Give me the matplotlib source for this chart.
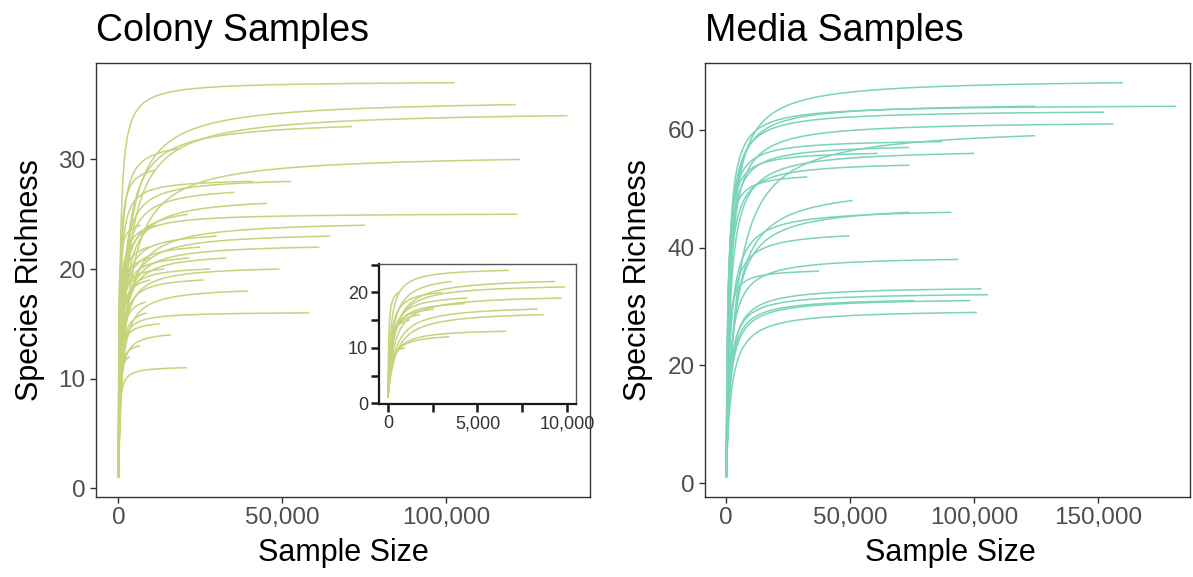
import numpy as np
import matplotlib
matplotlib.use("Agg")
import matplotlib.pyplot as plt

plt.rcParams['font.family'] = ['Liberation Sans', 'DejaVu Sans']

# ---------------- data ----------------
# Colony samples: final sample size, final richness, half-saturation size (shape)
colony_size = [102750, 121350, 137200, 71350, 19100, 11000, 122800, 52750, 41070, 35460,
               45340, 21250, 121900, 75300, 12200, 64640, 30000, 61400, 25000, 21650,
               33000, 49200, 28000, 14000, 26000, 39540, 58340, 12600, 16060, 20940,
               6760, 9350, 3550, 9900, 600, 3050, 9700, 4450, 4300, 8370,
               2570, 8690, 1800, 1200, 6610, 3430, 960]
colony_rich = [37, 35, 34, 33, 31, 29, 30, 28, 28, 27,
               26, 25, 25, 24, 24, 23, 23, 22, 22, 21,
               21, 20, 20, 20, 19, 18, 16, 15, 14, 11,
               24, 22, 22, 21, 20, 20, 19, 19, 18, 17,
               17, 16, 16, 15, 13, 12, 10]
colony_half = [450, 2000, 2200, 1500, 500, 300, 2500, 800, 400, 900,
               1200, 800, 600, 1500, 400, 1200, 700, 1000, 600, 500,
               900, 900, 500, 300, 600, 1000, 400, 300, 500, 300,
               150, 350, 250, 300, 40, 150, 350, 200, 200, 400,
               150, 450, 120, 80, 250, 200, 60]

# Media samples
media_size = [160000, 181500, 124600, 152600, 156250, 124600, 87050, 73800, 100000, 61100,
              73900, 32700, 50950, 90800, 73900, 49750, 93550, 37450, 103000, 105700,
              98400, 75950, 101100]
media_rich = [68, 64, 64, 63, 61, 59, 58, 57, 56, 56,
              54, 52, 48, 46, 46, 42, 38, 36, 33, 32,
              31, 31, 29]
media_half = [1800, 900, 1200, 1000, 1400, 4000, 700, 900, 1500, 600,
              1000, 500, 3000, 1500, 2500, 1200, 1500, 500, 1500, 1300,
              1600, 1400, 2000]

inset_max_size = 10000

colony_color = '#c4d47c'
media_color = '#7ad3bb'
tick_col = '#4d4d4d'
frame_col = '#333333'


def curve(size, rich, half):
    x = np.unique(np.concatenate([np.linspace(1, size, 400), np.geomspace(1, size, 300)]))
    h = (x - 1) / (half + x - 1)
    hm = (size - 1) / (half + size - 1)
    return x, 1 + (rich - 1) * h / hm


W, H = 1193, 577
fig = plt.figure(figsize=(W / 100, H / 100), dpi=100)


def box(l, t, r, b):
    return [l / W, 1 - b / H, (r - l) / W, (b - t) / H]


ax1 = fig.add_axes(box(96, 63, 590, 497))
ax2 = fig.add_axes(box(705, 63, 1190, 497))
axin = fig.add_axes(box(379, 264, 576, 404))

for s, r, k in zip(colony_size, colony_rich, colony_half):
    x, y = curve(s, r, k)
    ax1.plot(x, y, color=colony_color, lw=1.1, solid_capstyle='butt')
    if s <= inset_max_size:
        axin.plot(x, y, color=colony_color, lw=1.1, solid_capstyle='butt')

for s, r, k in zip(media_size, media_rich, media_half):
    x, y = curve(s, r, k)
    ax2.plot(x, y, color=media_color, lw=1.1, solid_capstyle='butt')


def style(ax, xlim, ylim, xt, yt, title, xlab_x, ylab_x):
    ax.set_xlim(*xlim)
    ax.set_ylim(*ylim)
    ax.set_xticks(xt)
    ax.set_xticklabels([f'{v:,}' for v in xt])
    ax.set_yticks(yt)
    ax.set_yticklabels([str(v) for v in yt])
    for sp in ax.spines.values():
        sp.set_color(frame_col)
        sp.set_linewidth(1.0)
    ax.tick_params(axis='both', length=4.5, width=1.0, color=frame_col,
                   labelcolor=tick_col, labelsize=17.5, pad=3)
    ax.set_title(title, loc='left', fontsize=27, pad=16, color='black')
    fig.text(xlab_x / W, 1 - 553 / H, 'Sample Size', ha='center', va='center', fontsize=22)
    fig.text(ylab_x / W, 1 - 280 / H, 'Species Richness', ha='center', va='center',
             rotation=90, fontsize=22)


style(ax1, (-6860, 144060), (-0.8, 38.8), [0, 50000, 100000], [0, 10, 20, 30],
      'Colony Samples', 343, 30)
style(ax2, (-8590, 187100), (-2.35, 71.35), [0, 50000, 100000, 150000], [0, 20, 40, 60],
      'Media Samples', 950, 638)

# inset
axin.set_xlim(-500, 10500)
axin.set_ylim(-0.15, 25.15)
axin.set_xticks([0, 2500, 5000, 7500, 10000])
axin.set_xticklabels(['0', '', '5,000', '', '10,000'])
axin.set_yticks([0, 5, 10, 15, 20, 25])
axin.set_yticklabels(['0', '', '10', '', '20', ''])
for name, sp in axin.spines.items():
    if name in ('left', 'bottom'):
        sp.set_color('#1a1a1a')
        sp.set_linewidth(1.6)
    else:
        sp.set_color('#555555')
        sp.set_linewidth(1.0)
axin.tick_params(axis='both', length=6, width=1.8, color='#1a1a1a',
                 labelcolor='#333333', labelsize=13, pad=2)

fig.savefig('out.png', dpi=100)
